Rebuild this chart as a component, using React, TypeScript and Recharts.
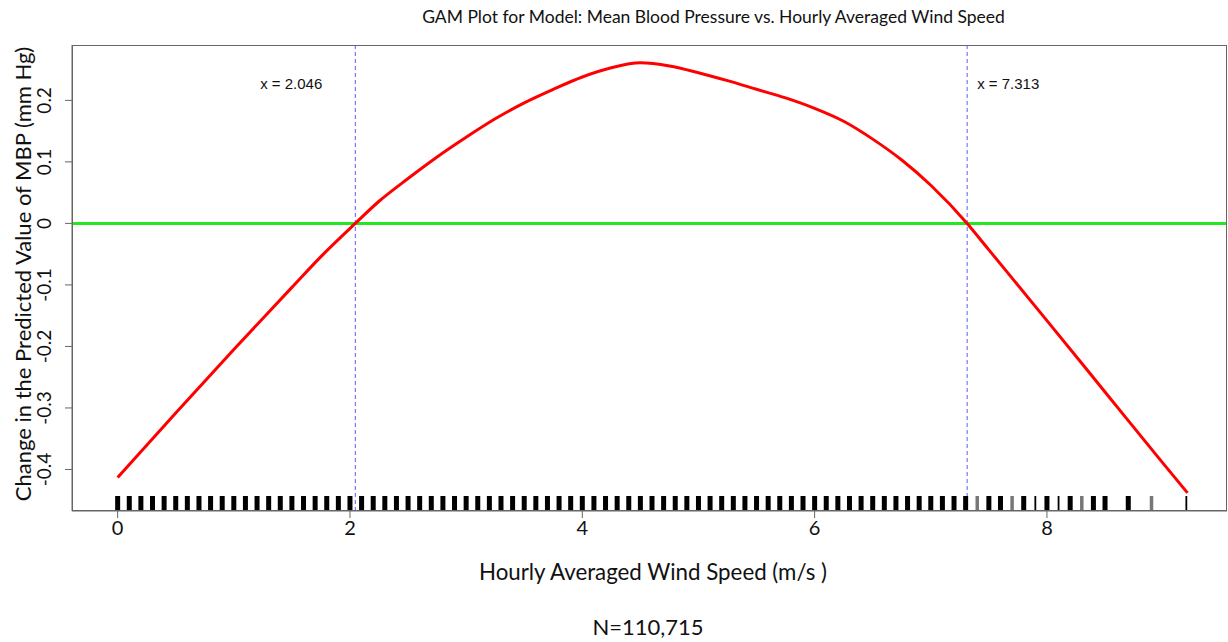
import React from "react";
import {
  ComposedChart,
  Line,
  Scatter,
  XAxis,
  YAxis,
  ReferenceLine,
} from "recharts";

// ---- Data ----
const windSpeed = [
  0, 0.5, 1.0, 1.5, 1.75, 2.046, 2.25, 2.5, 2.75, 3.0, 3.25, 3.5, 3.75, 4.0,
  4.25, 4.5, 4.75, 5.0, 5.25, 5.5, 5.75, 6.0, 6.25, 6.5, 6.75, 7.0, 7.313, 7.5,
  8.0, 8.5, 9.0, 9.21,
];
const mbpChange = [
  -0.413, -0.308, -0.205, -0.104, -0.054, 0, 0.036, 0.073, 0.108, 0.14, 0.17,
  0.196, 0.218, 0.238, 0.253, 0.261, 0.256, 0.245, 0.232, 0.218, 0.204, 0.187,
  0.166, 0.137, 0.103, 0.062, 0, -0.043, -0.158, -0.274, -0.39, -0.438,
];

// rug (observed wind speed values)
const rugDense = [
  0, 0.1, 0.2, 0.3, 0.4, 0.5, 0.6, 0.7, 0.8, 0.9, 1.0, 1.1, 1.2, 1.3, 1.4, 1.5,
  1.6, 1.7, 1.8, 1.9, 2.0, 2.1, 2.2, 2.3, 2.4, 2.5, 2.6, 2.7, 2.8, 2.9, 3.0,
  3.1, 3.2, 3.3, 3.4, 3.5, 3.6, 3.7, 3.8, 3.9, 4.0, 4.1, 4.2, 4.3, 4.4, 4.5,
  4.6, 4.7, 4.8, 4.9, 5.0, 5.1, 5.2, 5.3, 5.4, 5.5, 5.6, 5.7, 5.8, 5.9, 6.0,
  6.1, 6.2, 6.3, 6.4, 6.5, 6.6, 6.7, 6.8, 6.9, 7.0, 7.1, 7.2, 7.3,
];
const rugSparse = [7.5, 7.6, 7.8, 8.0, 8.2, 8.4, 8.5, 8.7];
const rugThin = [7.9, 8.1, 9.2];
const rugFaint = [7.4, 7.7, 8.3, 8.9];

const crossPoints = [2.046, 7.313];
const xTicks = [0, 2, 4, 6, 8];
const yTicks = [-0.4, -0.3, -0.2, -0.1, 0, 0.1, 0.2];

const X_DOMAIN: [number, number] = [-0.393, 9.55];
const Y_DOMAIN: [number, number] = [-0.4675, 0.29];

const W = 1228;
const H = 642;
const FONT = "Lato, 'Open Sans', sans-serif";

const curveData = windSpeed.map((x, i) => ({ x, y: mbpChange[i] }));
const rugData = [
  ...rugDense.map((x) => ({ x, y: Y_DOMAIN[0], kind: "dense" })),
  ...rugSparse.map((x) => ({ x, y: Y_DOMAIN[0], kind: "dense" })),
  ...rugThin.map((x) => ({ x, y: Y_DOMAIN[0], kind: "thin" })),
  ...rugFaint.map((x) => ({ x, y: Y_DOMAIN[0], kind: "faint" })),
];

const RugMark = (props: any) => {
  const { cx, cy, payload } = props;
  if (cx == null || cy == null) return null;
  const kind = payload?.kind;
  const w = kind === "dense" ? 5 : kind === "thin" ? 1.8 : 3.5;
  const fill = kind === "faint" ? "#777" : "#000";
  return <rect x={cx - w / 2} y={cy - 15} width={w} height={15} fill={fill} />;
};

const YTick = (props: any) => {
  const { x, y, payload } = props;
  const tx = x - 12;
  return (
    <text
      x={tx}
      y={y}
      transform={`rotate(-90 ${tx} ${y})`}
      textAnchor="middle"
      fontFamily={FONT}
      fontSize={19}
      fill="#111"
    >
      {String(payload.value)}
    </text>
  );
};

const XTick = (props: any) => {
  const { x, y, payload } = props;
  return (
    <text
      x={x}
      y={y + 15}
      textAnchor="middle"
      fontFamily={FONT}
      fontSize={20}
      fill="#111"
    >
      {String(payload.value)}
    </text>
  );
};

const makeLabel = (text: string, side: "left" | "right") => (props: any) => {
  const vb = props.viewBox || {};
  const x = side === "left" ? vb.x - 33 : vb.x + 10;
  return (
    <text
      x={x}
      y={(vb.y ?? 45) + 44}
      textAnchor={side === "left" ? "end" : "start"}
      fontFamily="'Liberation Sans', Arial, sans-serif"
      fontSize={15}
      fill="#111"
    >
      {text}
    </text>
  );
};

export default function App() {
  return (
    <div
      style={{
        position: "absolute",
        left: 0,
        top: 0,
        width: W,
        height: H,
        background: "#fff",
      }}
    >
      <ComposedChart
        width={W}
        height={H}
        margin={{ top: 45, right: 1, bottom: 0, left: 0 }}
      >
        <XAxis
          type="number"
          dataKey="x"
          domain={X_DOMAIN}
          ticks={xTicks}
          allowDataOverflow
          height={131}
          tickSize={7}
          stroke="#666"
          tick={<XTick />}
        />
        <YAxis
          type="number"
          dataKey="y"
          domain={Y_DOMAIN}
          ticks={yTicks}
          allowDataOverflow
          width={72}
          tickSize={7}
          stroke="#666"
          tick={<YTick />}
        />
        <ReferenceLine y={0} stroke="#22e822" strokeWidth={3} />
        <ReferenceLine
          x={crossPoints[0]}
          stroke="#5c5cff"
          strokeWidth={1}
          strokeDasharray="4 3"
          label={makeLabel("x = 2.046", "left")}
        />
        <ReferenceLine
          x={crossPoints[1]}
          stroke="#5c5cff"
          strokeWidth={1}
          strokeDasharray="4 3"
          label={makeLabel("x = 7.313", "right")}
        />
        <Line
          data={curveData}
          dataKey="y"
          type="monotone"
          stroke="#ff0000"
          strokeWidth={3}
          dot={false}
          isAnimationActive={false}
        />
        <Scatter
          data={rugData}
          dataKey="y"
          shape={<RugMark />}
          isAnimationActive={false}
        />
      </ComposedChart>
      {/* plot box */}
      <div
        style={{
          position: "absolute",
          left: 72,
          top: 45,
          width: 1155,
          height: 466,
          border: "1px solid #666",
          boxSizing: "border-box",
          pointerEvents: "none",
        }}
      />
      <div
        style={{
          position: "absolute",
          left: 0,
          width: 1427,
          top: 6,
          textAlign: "center",
          fontFamily: FONT,
          fontSize: 17.5,
          color: "#111",
          whiteSpace: "nowrap",
        }}
      >
        GAM Plot for Model: Mean Blood Pressure vs. Hourly Averaged Wind Speed
      </div>
      <div
        style={{
          position: "absolute",
          left: 0,
          width: 1306,
          top: 558,
          textAlign: "center",
          fontFamily: FONT,
          fontSize: 22.3,
          color: "#111",
          whiteSpace: "nowrap",
        }}
      >
        Hourly Averaged Wind Speed (m/s )
      </div>
      <div
        style={{
          position: "absolute",
          left: 0,
          width: 1296,
          top: 613,
          textAlign: "center",
          fontFamily: FONT,
          fontSize: 22,
          color: "#111",
          whiteSpace: "nowrap",
        }}
      >
        N=110,715
      </div>
      <div
        style={{
          position: "absolute",
          left: 22,
          top: 274,
          transform: "translate(-50%, -50%) rotate(-90deg)",
          fontFamily: FONT,
          fontSize: 22,
          color: "#111",
          whiteSpace: "nowrap",
        }}
      >
        Change in the Predicted Value of MBP (mm Hg)
      </div>
    </div>
  );
}
